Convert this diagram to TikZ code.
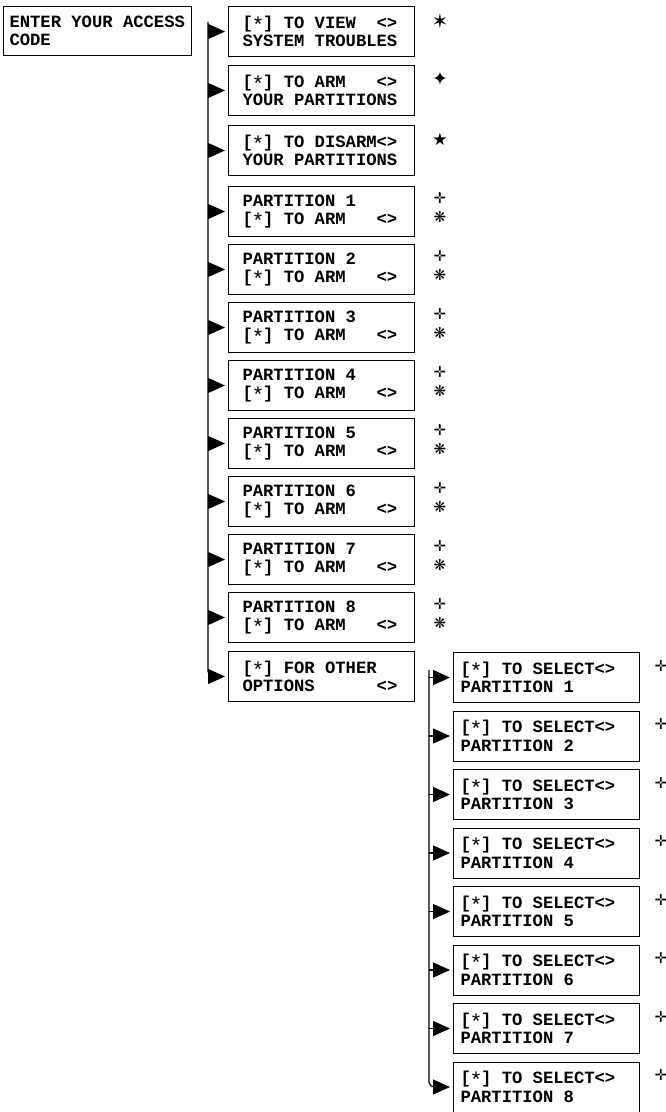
\documentclass[tikz,border=0pt]{standalone}
\usepackage{fontspec}
\newfontfamily\lcdfont{Liberation Mono}
\newfontfamily\symfont{DejaVu Sans}
\usetikzlibrary{arrows.meta}
\tikzset{every picture/.style={line width=0.75pt}}
\newcommand{\lcdsize}{\fontsize{17.2}{18.5}\selectfont}
\tikzset{
  lcdbox/.style={draw, line width=1pt, anchor=north west, align=flush left,
    text width=158pt, inner xsep=14pt, inner ysep=0pt, minimum height=50pt,
    font=\lcdfont\bfseries\lcdsize},
  branch/.style={line width=1.2pt, -{Triangle[length=17pt,width=15pt]}, shorten >=3pt},
  keysym/.style={font=\symfont\fontsize{15}{15}\selectfont, inner sep=0pt}
}
\newcommand{\keystar}{\makebox[0.6em]{\raisebox{-0.22em}{\mdseries\scalebox{1.25}{*}}}}

\begin{document}
\begin{tikzpicture}[x=1pt, y=-1pt]
    \useasboundingbox (0,0) rectangle (666,1112);
    % entry
    \node[lcdbox, text width=176pt, inner xsep=6pt, minimum height=49pt] (entry) at (3,6) {ENTER YOUR ACCESS\\CODE};
    % first menu level
    \coordinate (tk) at (208,22);
    \node[lcdbox] (view) at (228,6) {[\keystar] TO VIEW~~<>\\SYSTEM TROUBLES};
    \node[lcdbox] (arm) at (228,65) {[\keystar] TO ARM~~~<>\\YOUR PARTITIONS};
    \node[lcdbox] (disarm) at (228,125) {[\keystar] TO DISARM<>\\YOUR PARTITIONS};
    \node[keysym, font=\symfont\fontsize{20}{20}\selectfont] (sview) at (440,21) {✶};
    \node[keysym, font=\symfont\fontsize{19}{19}\selectfont] (sarm) at (440,79) {✦};
    \node[keysym, font=\symfont\fontsize{17}{17}\selectfont] (sdisarm) at (440,139) {★};
    \foreach \i in {1,...,8} {
        \pgfmathsetmacro\ytop{186+(\i-1)*58}
        \node[lcdbox] (p\i) at (228,\ytop) {PARTITION \i\\{}[\keystar] TO ARM~~~<>};
        \node[keysym] (pa\i) at (440,\ytop+12) {✛};
        \node[keysym] (pb\i) at (440,\ytop+31) {❋};
        \draw[branch] (p\i.west -| tk) -- (p\i.west);
    }
    \node[lcdbox] (opt) at (228,651) {[\keystar] FOR OTHER\\OPTIONS~~~~~~<>};
    \foreach \b in {view,arm,disarm}
        \draw[branch] (\b.west -| tk) -- (\b.west);
    \draw[branch, rounded corners=5pt] (tk) |- (opt.west);
    % second menu level
    \coordinate (tk2) at (429,670);
    \foreach \i in {1,...,8} {
        \pgfmathsetmacro\ytop{652+(\i-1)*58.5}
        \node[lcdbox, text width=172pt, inner xsep=7pt] (s\i) at (453,\ytop) {[\keystar] TO SELECT<>\\PARTITION \i};
        \node[keysym] (ss\i) at (661,\ytop+14) {✛};
    }
    \foreach \i in {1,...,7}
        \draw[branch] (s\i.west -| tk2) -- (s\i.west);
    \draw[branch, rounded corners=5pt] (tk2) |- (s8.west);
\end{tikzpicture}
\end{document}
